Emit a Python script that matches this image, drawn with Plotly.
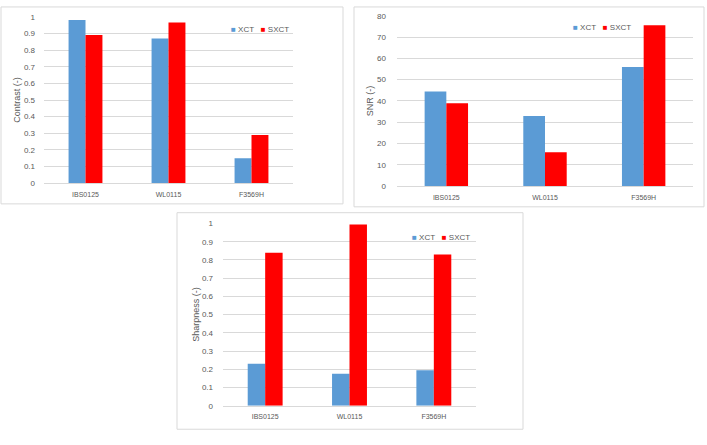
import plotly.graph_objects as go

categories = ["IBS0125", "WL0115", "F3569H"]
contrast_xct = [0.98, 0.87, 0.15]
contrast_sxct = [0.89, 0.965, 0.29]
snr_xct = [44.5, 33, 56]
snr_sxct = [39, 16, 75.5]
sharp_xct = [0.23, 0.175, 0.195]
sharp_sxct = [0.84, 0.995, 0.83]

W, H = 707, 445
BLUE = "#5B9BD5"
RED = "#FF0000"
TXT = "#595959"
GRID = "#D9D9D9"
FONT = "Liberation Sans"

def px(x):
    return x / W

def py(y):
    return 1 - y / H

fig = go.Figure()

panels = [
    (contrast_xct, contrast_sxct, "x", "y", 0.204),
    (snr_xct, snr_sxct, "x2", "y2", 0.22),
    (sharp_xct, sharp_sxct, "x3", "y3", 0.207),
]
for xv, sv, xa, ya, bw in panels:
    fig.add_trace(go.Bar(x=categories, y=xv, name="XCT", marker_color=BLUE,
                         xaxis=xa, yaxis=ya, marker_line_width=0,
                         width=bw, offset=-bw, showlegend=False))
    fig.add_trace(go.Bar(x=categories, y=sv, name="SXCT", marker_color=RED,
                         xaxis=xa, yaxis=ya, marker_line_width=0,
                         width=bw, offset=0, showlegend=False))

def yaxis(domain, rng, dtick, title, standoff, lblgap, anchor):
    return dict(domain=domain, range=rng, dtick=dtick, showgrid=True, gridcolor=GRID,
                gridwidth=1, zeroline=False, showline=False, ticks="", anchor=anchor,
                ticklabelstandoff=lblgap, tickfont=dict(size=8, color=TXT, family=FONT),
                title=dict(text=title, font=dict(size=9, color=TXT, family=FONT), standoff=standoff),
                fixedrange=True)

def xaxis(domain, anchor):
    return dict(domain=domain, anchor=anchor, showgrid=False, zeroline=False,
                showline=True, linecolor=GRID, linewidth=1, ticks="",
                ticklabelstandoff=4, tickfont=dict(size=7, color=TXT, family=FONT),
                fixedrange=True)

def legend_text():
    nb = "\u00a0"
    return (f'<span style="color:{BLUE}">■</span>{nb}XCT{nb}{nb}{nb}'
            f'<span style="color:{RED}">■</span>{nb}SXCT')

legend_pos = [(229, 26), (571, 24), (410, 238)]
annotations = [
    dict(text=legend_text(), xref="paper", yref="paper", x=px(lx), y=py(ly),
         xanchor="left", yanchor="middle", showarrow=False,
         font=dict(size=8, color=TXT, family=FONT))
    for lx, ly in legend_pos
]

fig.update_layout(
    width=W, height=H,
    margin=dict(l=0, r=0, t=0, b=0),
    paper_bgcolor="white", plot_bgcolor="white",
    barmode="overlay",
    showlegend=False,
    xaxis=xaxis([px(44), px(293)], "y"),
    yaxis=yaxis([py(183), py(13)], [0, 1], 0.1, "Contrast (-)", 1, 8, "x"),
    xaxis2=xaxis([px(397), px(693)], "y2"),
    yaxis2=yaxis([py(186), py(12)], [0, 80], 10, "SNR (-)", 1, 10, "x2"),
    xaxis3=xaxis([px(223), px(476)], "y3"),
    yaxis3=yaxis([py(410), py(224)], [0, 1], 0.1, "Sharpness (-)", 0, 9, "x3"),
    annotations=annotations,
    shapes=[
        dict(type="rect", xref="paper", yref="paper", x0=px(1), x1=px(343), y0=py(204), y1=py(3),
             line=dict(color=GRID, width=1), layer="below"),
        dict(type="rect", xref="paper", yref="paper", x0=px(354), x1=px(704), y0=py(207), y1=py(3),
             line=dict(color=GRID, width=1), layer="below"),
        dict(type="rect", xref="paper", yref="paper", x0=px(177), x1=px(523), y0=py(434), y1=py(213),
             line=dict(color=GRID, width=1), layer="below"),
    ],
)

fig.write_html("out.html", config={"displayModeBar": False})
